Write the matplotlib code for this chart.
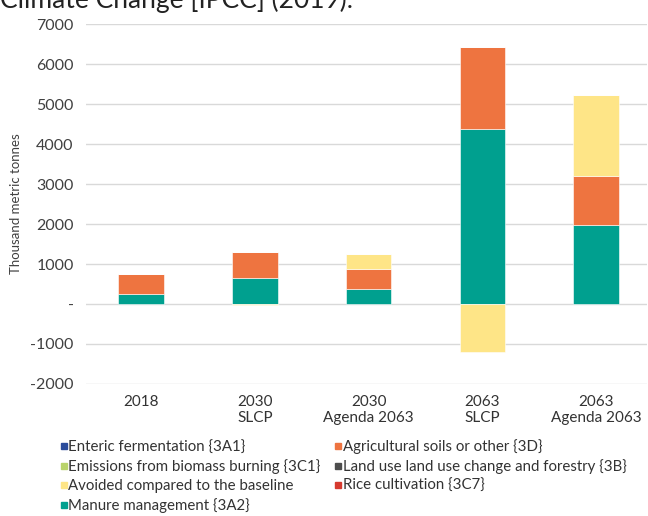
import numpy as np
import matplotlib
matplotlib.use('Agg')
import matplotlib.pyplot as plt
from matplotlib.lines import Line2D

plt.rcParams['font.family'] = ['Lato', 'DejaVu Sans']

# 데이터 (thousand metric tonnes)
categories = ['2018', '2030\nSLCP', '2030\nAgenda 2063', '2063\nSLCP', '2063\nAgenda 2063']
enteric = [0, 0, 0, 0, 0]
biomass = [0, 0, 0, 0, 0]
manure = [260, 645, 375, 4385, 1985]
ag_soils = [480, 655, 500, 2055, 1215]
lulucf = [0, 0, 0, 0, 0]
rice = [0, 0, 0, 0, 0]
avoided = [0, -30, 375, -1205, 2025]

legend_names = ['Enteric fermentation {3A1}', 'Emissions from biomass burning {3C1}',
                'Avoided compared to the baseline', 'Manure management {3A2}',
                'Agricultural soils or other {3D}', 'Land use land use change and forestry {3B}',
                'Rice cultivation {3C7}']
legend_colors = ['#2b4c9b', '#b9d36b', '#fee587', '#00a08f', '#ee7440', '#4d4d4d', '#d63a2f']

fig = plt.figure(figsize=(6.48, 5.16), dpi=100)
ax = fig.add_axes([0.133, 0.256, 0.865, 0.697])

x = np.arange(len(categories))
w = 0.4
series = [(manure, '#00a08f'), (ag_soils, '#ee7440'), (avoided, '#fee587'),
          (enteric, '#2b4c9b'), (biomass, '#b9d36b'), (lulucf, '#4d4d4d'), (rice, '#d63a2f')]
pos_base = np.zeros(len(x))
neg_base = np.zeros(len(x))
for vals, col in series:
    v = np.array(vals, dtype=float)
    base = np.where(v >= 0, pos_base, neg_base)
    ax.bar(x, v, w, bottom=base, color=col, edgecolor='white', linewidth=0.4, zorder=3)
    pos_base += np.where(v > 0, v, 0)
    neg_base += np.where(v < 0, v, 0)

ax.set_ylim(-2000, 7000)
ax.set_xlim(-0.4835, 4.444)
ax.set_yticks(np.arange(-2000, 7001, 1000))
ax.set_yticklabels(['-2000', '-1000', '-', '1000', '2000', '3000', '4000', '5000', '6000', '7000'])
ax.set_xticks(x)
ax.set_xticklabels(categories, fontsize=11, color='#333333')
ax.tick_params(axis='y', labelsize=11.5, colors='#404040', length=0, pad=9)
ax.tick_params(axis='x', length=0, pad=8)
ax.grid(axis='y', color='#d9d9d9', linewidth=1, zorder=0)
for s in ax.spines.values():
    s.set_visible(False)
ax.set_ylabel('Thousand metric tonnes', fontsize=9.5, color='#404040', labelpad=6)

# 제목 (위쪽이 잘려 있음)
fig.text(0.0, 0.975, 'Climate Change [IPCC] (2019).', fontsize=19, color='#222222', va='bottom')

handles = [Line2D([0], [0], marker='s', linestyle='none', markersize=5,
                  markerfacecolor=c, markeredgecolor=c) for c in legend_colors]
fig.legend(handles, legend_names, ncol=2, loc='upper left', bbox_to_anchor=(0.082, 0.16),
           frameon=False, fontsize=10.8, handletextpad=0.0, handlelength=0.6,
           columnspacing=0.9, labelspacing=0.33, labelcolor='#333333', borderaxespad=0)

plt.savefig('out.png')
